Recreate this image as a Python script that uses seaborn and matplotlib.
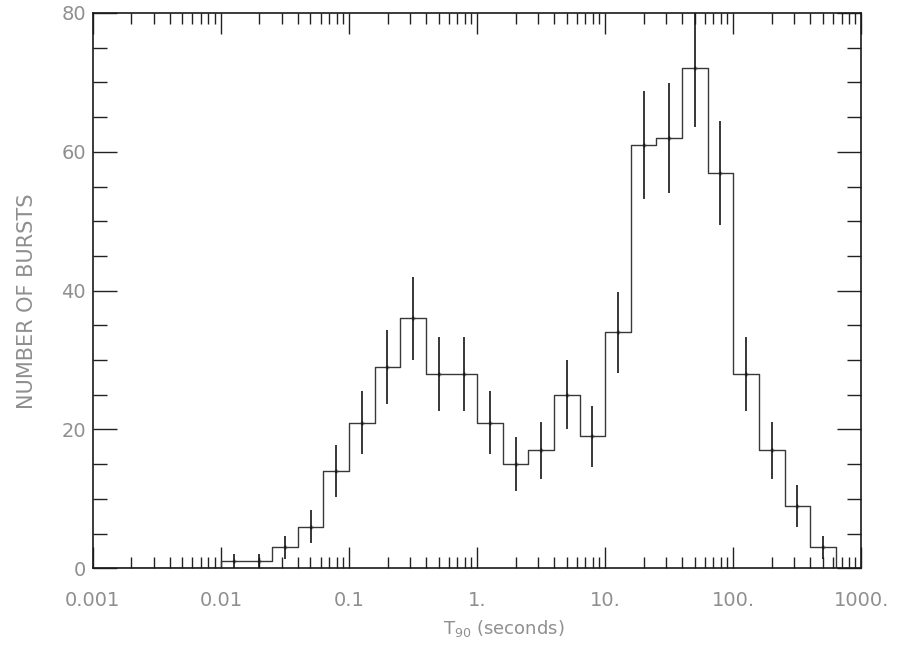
import numpy as np
import pandas as pd
import matplotlib
matplotlib.use("Agg")
import matplotlib.pyplot as plt
from matplotlib.ticker import FixedLocator, FixedFormatter, MultipleLocator, LogLocator, NullFormatter
import seaborn as sns

# log10 bin edges of the T90 histogram (0.2 dex wide, 0.001 s to 1000 s)
log_edges = [-3.0, -2.8, -2.6, -2.4, -2.2, -2.0, -1.8, -1.6, -1.4, -1.2,
             -1.0, -0.8, -0.6, -0.4, -0.2, 0.0, 0.2, 0.4, 0.6, 0.8,
             1.0, 1.2, 1.4, 1.6, 1.8, 2.0, 2.2, 2.4, 2.6, 2.8, 3.0]

# number of bursts in each bin
counts = [0, 0, 0, 0, 0, 1, 1, 3, 6, 14,
          21, 29, 36, 28, 28, 21, 15, 17, 25, 19,
          34, 61, 62, 72, 57, 28, 17, 9, 3, 0]

# Poisson uncertainty on each bin
errors = [0, 0, 0, 0, 0, 1.0, 1.0, 1.7, 2.4, 3.7,
          4.6, 5.4, 6.0, 5.3, 5.3, 4.6, 3.9, 4.1, 5.0, 4.4,
          5.8, 7.8, 7.9, 8.5, 7.5, 5.3, 4.1, 3.0, 1.7, 0]

x_ticks = [0.001, 0.01, 0.1, 1.0, 10.0, 100.0, 1000.0]
x_tick_labels = ["0.001", "0.01", "0.1", "1.", "10.", "100.", "1000."]
y_ticks = [0, 20, 40, 60, 80]
y_tick_labels = ["0", "20", "40", "60", "80"]

sns.set_theme(style="ticks")
plt.rcParams["font.family"] = ["DejaVu Sans"]

edges = np.array(log_edges)
width = float(edges[1] - edges[0])
centers = 10 ** (edges[:-1] + width / 2)
df = pd.DataFrame({"t90": centers, "n": counts, "err": errors})

fig = plt.figure(figsize=(9.01, 6.48), dpi=100)
ax = fig.add_axes([0.103, 0.123, 0.853, 0.857])

line_col = "#383838"
label_col = "#8f8f8f"

# binning is done in log10 units because of log_scale
sns.histplot(data=df, x="t90", weights="n", binwidth=width,
             binrange=(float(edges[0]), float(edges[-1])), log_scale=True,
             element="step", fill=False, color=line_col, linewidth=1.0, ax=ax)

nz = df[df["n"] > 0]
ax.errorbar(nz["t90"], nz["n"], yerr=nz["err"], fmt="none",
            ecolor="#151515", elinewidth=1.2, capsize=0)
ax.scatter(nz["t90"], nz["n"], s=6, color="#151515", marker="+", linewidths=1.0)

ax.set_xlim(0.001, 1000)
ax.set_ylim(0, 80)

ax.xaxis.set_major_locator(FixedLocator(x_ticks))
ax.xaxis.set_major_formatter(FixedFormatter(x_tick_labels))
ax.xaxis.set_minor_locator(LogLocator(base=10, subs=np.arange(2, 10), numticks=20))
ax.xaxis.set_minor_formatter(NullFormatter())
ax.yaxis.set_major_locator(FixedLocator(y_ticks))
ax.yaxis.set_major_formatter(FixedFormatter(y_tick_labels))
ax.yaxis.set_minor_locator(MultipleLocator(5))

ax.tick_params(which="both", direction="in", top=True, right=True,
               color="#222222", labelcolor=label_col, labelsize=14)
ax.tick_params(axis="x", which="major", length=15, width=1.0, pad=16)
ax.tick_params(axis="x", which="minor", length=8, width=1.0)
ax.tick_params(axis="y", which="major", length=17, width=1.0, pad=5)
ax.tick_params(axis="y", which="minor", length=10, width=1.0)

for sp in ax.spines.values():
    sp.set_visible(True)
    sp.set_color("#1a1a1a")
    sp.set_linewidth(1.2)

ax.set_xlabel("T$_{90}$ (seconds)", color=label_col, fontsize=13)
ax.xaxis.set_label_coords(0.535, -0.09)
ax.set_ylabel("NUMBER OF BURSTS", color=label_col, fontsize=15)
ax.yaxis.set_label_coords(-0.072, 0.48)

fig.savefig("out.png", dpi=100)
